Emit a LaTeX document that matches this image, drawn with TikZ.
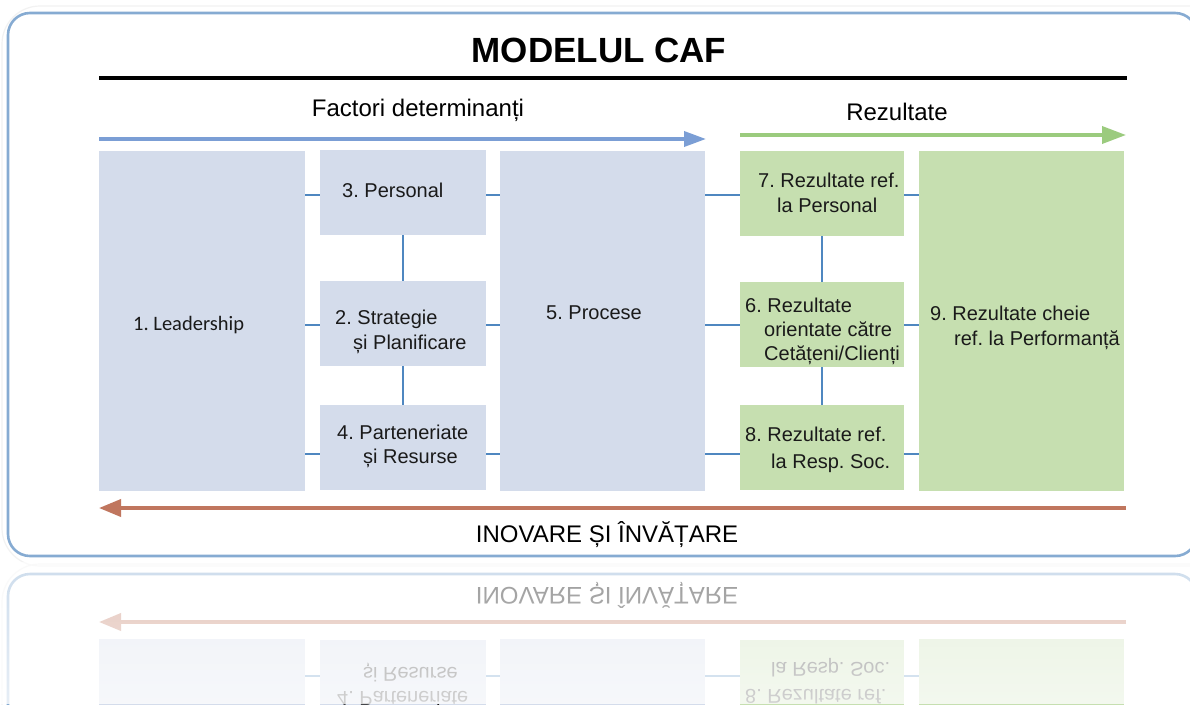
\documentclass[tikz,border=0pt]{standalone}
\usepackage{fontspec}
\setmainfont{Liberation Sans}
\newfontfamily\calfont{Carlito}
\usetikzlibrary{arrows.meta,fadings}
\definecolor{boxblue}{HTML}{D4DCEB}
\definecolor{boxgreen}{HTML}{C6DFB0}
\definecolor{conncol}{HTML}{4F87C0}
\definecolor{arrblue}{HTML}{7B9ED5}
\definecolor{arrgreen}{HTML}{9BCB7E}
\definecolor{arrred}{HTML}{C0765E}
\definecolor{framecol}{HTML}{86ABD2}
\definecolor{txtcol}{HTML}{1A1A1A}
\tikzfading[name=reflfade, top color=transparent!40, bottom color=transparent!20]
\tikzset{
  bbox/.style={fill=boxblue, draw=none, minimum width=166pt, minimum height=85pt, inner sep=0pt},
  gbox/.style={fill=boxgreen, draw=none, minimum width=164pt, minimum height=85pt, inner sep=0pt},
  bigbox/.style={minimum width=205pt, minimum height=340pt},
  conn/.style={draw=conncol, line width=2.6pt},
  txt/.style={anchor=base west, inner sep=0pt, text=txtcol, font=\fontsize{20}{25}\selectfont},
  head/.style={inner sep=0pt, text=black, font=\fontsize{24}{28}\selectfont},
  arrb/.style={draw=arrblue, line width=3.6pt, -{Triangle[length=22pt,width=15pt]}},
  arrg/.style={draw=arrgreen, line width=3.6pt, -{Triangle[length=24pt,width=17pt]}},
  arrr/.style={draw=arrred, line width=3.6pt, -{Triangle[length=22pt,width=17pt]}},
}
\newcommand\cafbody[1]{%
  % frame
  \draw[gray!10, line width=1.2pt, rounded corners=38pt] (2,6) rectangle (1230,566);
  \draw[framecol, line width=2.6pt, rounded corners=22pt] (8,13) rectangle (1197,556);
  % title
  \node[inner sep=0pt, font=\bfseries\fontsize{35}{40}\selectfont] (#1title) at (599,50) {MODELUL CAF};
  \draw[black, line width=3.6pt] (99,78) -- (1127,78);
  % headers
  \node[head] (#1hf) at (418,110) {Factori determinanți};
  \node[head] (#1hr) at (897,112) {Rezultate};
  \coordinate (#1fa) at (99,139); \coordinate (#1fb) at (706,139);
  \draw[arrb] (#1fa) -- (#1fb);
  \coordinate (#1ra) at (740,135); \coordinate (#1rb) at (1126,135);
  \draw[arrg] (#1ra) -- (#1rb);
  % boxes
  \node[bbox, bigbox, minimum width=206pt] (#1b1) at (202,321) {};
  \node[bbox] (#1b3) at (403,192.5) {};
  \node[bbox] (#1b2) at (403,323.5) {};
  \node[bbox] (#1b4) at (403,447.5) {};
  \node[bbox, bigbox] (#1b5) at (602.5,321) {};
  \node[gbox] (#1b7) at (822,193.5) {};
  \node[gbox] (#1b6) at (822,324.5) {};
  \node[gbox] (#1b8) at (822,447.5) {};
  \node[gbox, bigbox] (#1b9) at (1021.5,321) {};
  % connectors
  \draw[conn] (#1b1.east |- 0,195) -- (#1b3.west |- 0,195);
  \draw[conn] (#1b1.east |- 0,325) -- (#1b2.west |- 0,325);
  \draw[conn] (#1b1.east |- 0,454) -- (#1b4.west |- 0,454);
  \draw[conn] (#1b3.east |- 0,195) -- (#1b5.west |- 0,195);
  \draw[conn] (#1b2.east |- 0,325) -- (#1b5.west |- 0,325);
  \draw[conn] (#1b4.east |- 0,454) -- (#1b5.west |- 0,454);
  \draw[conn] (#1b5.east |- 0,195) -- (#1b7.west |- 0,195);
  \draw[conn] (#1b5.east |- 0,325) -- (#1b6.west |- 0,325);
  \draw[conn] (#1b5.east |- 0,454) -- (#1b8.west |- 0,454);
  \draw[conn] (#1b7.east |- 0,195) -- (#1b9.west |- 0,195);
  \draw[conn] (#1b6.east |- 0,325) -- (#1b9.west |- 0,325);
  \draw[conn] (#1b8.east |- 0,454) -- (#1b9.west |- 0,454);
  \draw[conn] (#1b3.south) -- (#1b2.north);
  \draw[conn] (#1b2.south) -- (#1b4.north);
  \draw[conn] (#1b7.south) -- (#1b6.north);
  \draw[conn] (#1b6.south) -- (#1b8.north);
  % box texts
  \node[txt, font=\calfont\fontsize{20.5}{25}\selectfont] (#1t1) at (133,330) {1. Leadership};
  \node[txt] (#1t3) at (342,197) {3. Personal};
  \node[txt] (#1t2a) at (335,324) {2. Strategie};
  \node[txt] (#1t2b) at (353,349) {și Planificare};
  \node[txt] (#1t4a) at (337,439) {4. Parteneriate};
  \node[txt] (#1t4b) at (363,463) {și Resurse};
  \node[txt] (#1t5) at (546,319) {5. Procese};
  \node[txt] (#1t7a) at (758,187) {7. Rezultate ref.};
  \node[txt] (#1t7b) at (777,212) {la Personal};
  \node[txt] (#1t6a) at (745,312) {6. Rezultate};
  \node[txt] (#1t6b) at (764,336) {orientate către};
  \node[txt] (#1t6c) at (764,360) {Cetățeni/Clienți};
  \node[txt] (#1t8a) at (745,441) {8. Rezultate ref.};
  \node[txt] (#1t8b) at (771,468) {la Resp. Soc.};
  \node[txt] (#1t9a) at (930,320) {9. Rezultate cheie};
  \node[txt] (#1t9b) at (954,345) {ref. la Performanță};
  % bottom arrow
  \coordinate (#1ia) at (1126,508); \coordinate (#1ib) at (99,508);
  \draw[arrr] (#1ia) -- (#1ib);
  \node[head] (#1hi) at (607,535) {INOVARE ȘI ÎNVĂȚARE};
}
\begin{document}
\frenchspacing
\begin{tikzpicture}[x=1pt, y=-1pt]
  \useasboundingbox (0,0) rectangle (1190,704);
  \fill[white] (0,0) rectangle (1190,704);
  \begin{scope}
    \clip (0,0) rectangle (1190,704);
    \cafbody{m}
    \begin{scope}
      \clip (0,562) rectangle (1190,704);
      \begin{scope}[shift={(0,1130)}, yscale=-1, transform shape]
        \cafbody{r}
      \end{scope}
    \end{scope}
    \fill[white, path fading=reflfade] (0,562) rectangle (1190,704);
  \end{scope}
\end{tikzpicture}
\end{document}
